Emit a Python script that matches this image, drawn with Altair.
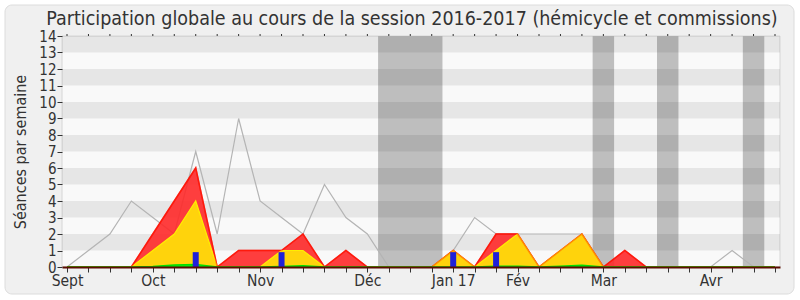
import altair as alt
import pandas as pd

# ---- data ----
title_text = "Participation globale au cours de la session 2016-2017 (hémicycle et commissions)"
weeks = list(range(34))
seances = [0, 1, 2, 4, 3, 2, 7, 2, 9, 4, 3, 2, 5, 3, 2, 0, 0, 0, 1, 3, 2, 2, 2, 2, 2, 0, 0, 0, 0, 0, 0, 1, 0, 0]
presences = [0, 0, 0, 0, 2, 4, 6, 0, 1, 1, 1, 2, 0, 1, 0, 0, 0, 0, 1, 0, 2, 2, 0, 1, 2, 0, 1, 0, 0, 0, 0, 0, 0, 0]
hemicycle = [0, 0, 0, 0, 1, 2, 4, 0, 0, 0, 1, 1, 0, 0, 0, 0, 0, 0, 1, 0, 1, 2, 0, 1, 2, 0, 0, 0, 0, 0, 0, 0, 0, 0]
interventions = [0, 0, 0, 0, 0.03, 0.12, 0.15, 0, 0, 0, 0.03, 0.08, 0, 0, 0, 0, 0, 0, 0, 0, 0.05, 0.05, 0, 0.05, 0.1, 0, 0, 0, 0, 0, 0, 0, 0, 0]
question_weeks = [6, 10, 18, 20]
question_values = [0.9, 0.9, 0.9, 0.9]
vacation_weeks = [15, 16, 17, 25, 28, 32]
month_weeks = [0, 4, 9, 14, 18, 21, 25, 30]
month_labels = ["Sept", "Oct", "Nov", "Déc", "Jan 17", "Fév", "Mar", "Avr"]
y_ticks = list(range(15))
stripe_starts = [1, 3, 5, 7, 9, 11, 13]

W, H = 718, 231
df = pd.DataFrame({"week": weeks, "seances": seances, "presences": presences,
                   "hemicycle": hemicycle, "interventions": interventions})
dq = pd.DataFrame({"week": question_weeks, "q": question_values})

# merge consecutive vacation weeks into single bands
runs = []
for w in vacation_weeks:
    if runs and runs[-1][1] == w - 1:
        runs[-1][1] = w
    else:
        runs.append([w, w])
dv = pd.DataFrame({"a": [r[0] - 0.5 for r in runs], "b": [r[1] + 0.5 for r in runs]})
ds = pd.DataFrame({"y": stripe_starts, "y2": [s + 1 for s in stripe_starts]})
one = pd.DataFrame({"t": [title_text]})

label_expr = ""
for w, l in zip(month_weeks, month_labels):
    label_expr += f"datum.value == {w} ? '{l}' : "
label_expr += "''"

xs = alt.Scale(domain=[0, 33], nice=False, zero=False)
ys = alt.Scale(domain=[0, 14], nice=False)
font = "DejaVu Sans Condensed, DejaVu Sans"

xaxis = alt.Axis(values=weeks, labelExpr=label_expr, title=None, grid=False, zindex=2,
                 tickSize=5, tickColor="#333333", domainColor="#5a0c00", domainWidth=2,
                 labelFontSize=15.5, labelColor="#333333", labelFont=font, labelPadding=1,
                 labelFlush=False, labelOverlap=False)
yaxis = alt.Axis(values=y_ticks, title="Séances par semaine", grid=False, tickSize=5, zindex=2,
                 tickColor="#333333", domain=False, labelFontSize=15, labelColor="#333333",
                 labelFont=font, labelPadding=1, titleFontSize=16, titleFont=font, labelOverlap=False,
                 titleColor="#333333", titleFontWeight="normal", titlePadding=10)


def X(f):
    return alt.X(f, scale=xs, axis=xaxis)


def Y(f):
    return alt.Y(f, scale=ys, axis=yaxis)


outer = alt.Chart(one).mark_rect(fill="#f0f0f0", stroke="#dcdcdc", strokeWidth=1, cornerRadius=7).encode(
    x=alt.value(-57), x2=alt.value(732), y=alt.value(-31), y2=alt.value(258))
title = alt.Chart(one).mark_text(font=font, fontSize=19.5, color="#333333", align="center",
                                 baseline="alphabetic").encode(
    x=alt.value(350), y=alt.value(-11), text="t:N")
plotbg = alt.Chart(one).mark_rect(fill="#f9f9f9", stroke="#d6d6d6", strokeWidth=1).encode(
    x=alt.value(0), x2=alt.value(W), y=alt.value(0), y2=alt.value(H))
bands = alt.Chart(dv).mark_rect(color="#bebebe").encode(
    x=X("a:Q"), x2="b:Q", y=alt.value(0), y2=alt.value(H))
stripes = alt.Chart(ds).mark_rect(color="#000000", opacity=0.075).encode(
    y=Y("y:Q"), y2="y2:Q", x=alt.value(0), x2=alt.value(W))
topticks = alt.Chart(df).mark_rule(color="#333333", strokeWidth=1).encode(
    x=X("week:Q"), y=alt.value(-2), y2=alt.value(0))
grayline = alt.Chart(df).mark_line(color="#b4b4b4", strokeWidth=1.2).encode(
    x=X("week:Q"), y=Y("seances:Q"))
red = alt.Chart(df).mark_area(color="#ff2a2a", opacity=0.9, stroke="#ff0000", strokeWidth=1.5).encode(
    x=X("week:Q"), y=Y("presences:Q"))
yellow = alt.Chart(df).mark_area(color="#ffd30c", stroke="#ffee00", strokeWidth=1.2).encode(
    x=X("week:Q"), y=Y("hemicycle:Q"))
redline = alt.Chart(df).mark_line(color="#ff2000", opacity=0.45, strokeWidth=1.5).encode(
    x=X("week:Q"), y=Y("presences:Q"))
green = alt.Chart(df).mark_area(color="#10f010", stroke="#00dd00", strokeWidth=1.5).encode(
    x=X("week:Q"), y=Y("interventions:Q"))
blue = alt.Chart(dq).mark_bar(color="#2020d8", size=6, orient="vertical").encode(
    x=X("week:Q"), y=Y("q:Q"))

chart = alt.layer(outer, title, plotbg, bands, stripes, topticks, grayline, red, yellow, redline, green, blue).properties(
    width=W, height=H,
    autosize=alt.AutoSizeParams(type="none"),
    padding={"left": 62, "top": 36, "right": 20, "bottom": 33},
).configure_view(strokeWidth=0).configure(background="#ffffff")

chart.save("out.html", embed_options={"renderer": "svg", "actions": False})
